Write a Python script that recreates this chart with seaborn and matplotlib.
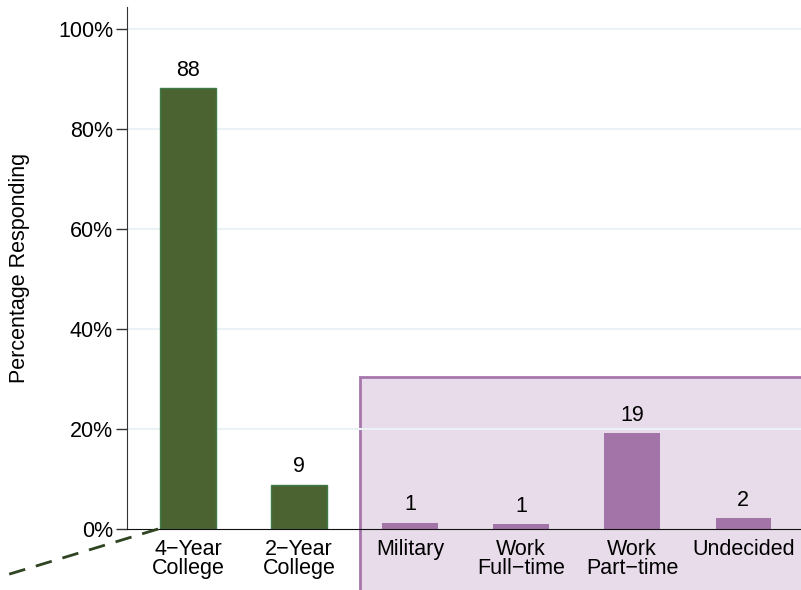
import pandas as pd
import seaborn as sns
import matplotlib.pyplot as plt
from matplotlib.patches import Rectangle

# values (percent responding)
categories = ['4\u2212Year\nCollege', '2\u2212Year\nCollege', 'Military',
              'Work\nFull\u2212time', 'Work\nPart\u2212time', 'Undecided']
values = [88.3, 8.9, 1.3, 1.1, 19.2, 2.2]
groups = ['college', 'college', 'other', 'other', 'other', 'other']
yticks = [0, 20, 40, 60, 80, 100]

df = pd.DataFrame({'plan': categories, 'pct': values, 'group': groups})

sns.set_style('white')
plt.rcParams['font.family'] = ['Liberation Sans', 'DejaVu Sans']
plt.rcParams['text.color'] = 'black'
plt.rcParams['xtick.color'] = 'black'
plt.rcParams['ytick.color'] = 'black'
plt.rcParams['axes.labelcolor'] = 'black'

fs = 15.5

fig = plt.figure(figsize=(8.01, 5.90), dpi=100)
ax = fig.add_axes([127 / 801, 1 - 529 / 590, 1 - 127 / 801, (529 - 7) / 590])

#the shaded box around the non-college options
box = Rectangle((1.55, -20), 4.1, 50.4, facecolor='#e8dbea', edgecolor='#a676ad',
                linewidth=2, zorder=0.5, clip_on=False)
ax.add_patch(box)

for t in yticks[1:]:
    ax.axhline(t, color='#eaf2f5', linewidth=1.5, zorder=1)

sns.barplot(data=df, x='plan', y='pct', hue='group', dodge=False, width=0.5,
            palette={'college': '#4b6331', 'other': '#a374a8'}, legend=False,
            saturation=1, ax=ax, zorder=2)
for patch, g in zip(ax.patches[1:], groups):
    if g == 'college':
        patch.set_edgecolor('#3f7a4a')
        patch.set_linewidth(1)
    else:
        patch.set_edgecolor('#a374a8')
        patch.set_linewidth(0)

for i, v in enumerate(values):
    ax.text(i, v + 1.4, str(round(v)), ha='center', va='bottom', fontsize=fs)

#dashed connector line going off to the bottom left
ax.plot([-0.27, -2.2], [0, -13.0], linestyle=(0, (6, 4)), color='#2f4420',
        linewidth=2, clip_on=False, zorder=3)

ax.set_xlim(-0.55, 5.52)
ax.set_ylim(0, 104.4)
ax.set_yticks(yticks)
ax.set_yticklabels([f'{t}%' for t in yticks], fontsize=fs)
ax.tick_params(axis='y', length=8, width=1, color='#333333', direction='out', left=True, pad=2)
ax.tick_params(axis='x', length=0, labelsize=fs, pad=7)
for lab in ax.get_xticklabels():
    lab.set_linespacing(0.9)
ax.set_xlabel('')
ax.set_ylabel('Percentage Responding', fontsize=fs, labelpad=20)
for s in ['top', 'right']:
    ax.spines[s].set_visible(False)
ax.spines['left'].set_color('#333333')
ax.spines['bottom'].set_color('#111111')
ax.set_facecolor('none')

fig.savefig('out.png', dpi=100)
